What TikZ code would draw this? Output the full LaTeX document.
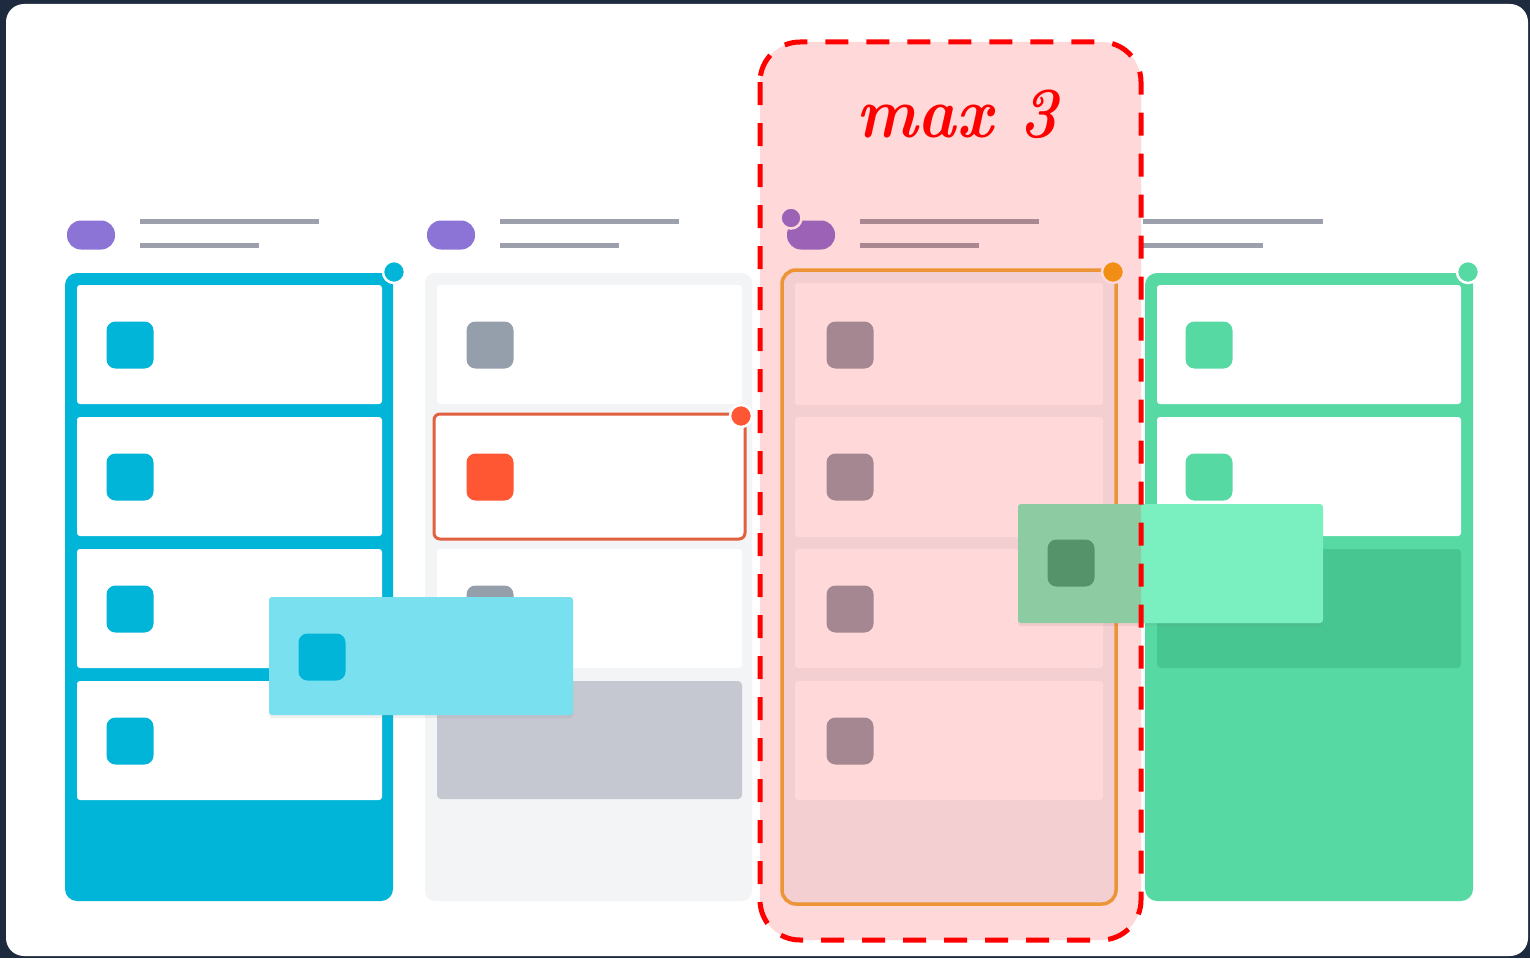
\documentclass[tikz,border=0pt]{standalone}
\usetikzlibrary{shadows}
\definecolor{navy}{HTML}{1E2A3D}
\definecolor{cblue}{HTML}{00B5D8}
\definecolor{lblue}{HTML}{79E0F0}
\definecolor{cgreen}{HTML}{57D9A3}
\definecolor{dgreen}{HTML}{48C691}
\definecolor{lgreen}{HTML}{7AF0C0}
\definecolor{ggreen}{HTML}{38AF7E}
\definecolor{cgray}{HTML}{F3F4F6}
\definecolor{pgray}{HTML}{C5C8D1}
\definecolor{igray}{HTML}{959FAB}
\definecolor{hgray}{HTML}{9CA0AC}
\definecolor{cred}{HTML}{E0603F}
\definecolor{ired}{HTML}{FF5733}
\definecolor{corange}{HTML}{EBAE40}
\definecolor{dorange}{HTML}{F0A818}
\definecolor{cpurple}{HTML}{8B74D6}
\tikzset{
  icon/.style={rectangle, minimum size=47pt, inner sep=0pt, rounded corners=9pt, draw=none},
  dot/.style={circle, minimum size=22pt, inner sep=0pt, draw=white, line width=2.5pt,
              drop shadow={shadow xshift=0pt, shadow yshift=-1.5pt, opacity=0.15}},
  pill/.style={rectangle, minimum width=48pt, minimum height=29pt, inner sep=0pt,
               rounded corners=14pt, fill=cpurple, draw=none},
  hline/.style={hgray, line width=5pt},
  card/.style={fill=white, rounded corners=3pt},
  dragcard/.style={rounded corners=3pt,
                   drop shadow={shadow xshift=0pt, shadow yshift=-3pt, opacity=0.12}},
}
\begin{document}
\begin{tikzpicture}[x=1pt,y=-1pt]
\useasboundingbox (0,0) rectangle (1530,958);
\fill[navy] (0,0) rectangle (1530,958);
\fill[white, rounded corners=18pt] (6,4) rectangle (1528,956);

% ---------- column 1 (blue) ----------
\node[pill] (p1) at (91,235) {};
\draw[hline] (140,221) -- (319,221);
\draw[hline] (140,245) -- (259,245);
\fill[cblue, rounded corners=12pt] (65,273) rectangle (393,901);
\fill[card] (77,285) rectangle (382,404);
\fill[card] (77,417) rectangle (382,536);
\fill[card] (77,549) rectangle (382,668);
\fill[card] (77,681) rectangle (382,800);
\node[icon, fill=cblue] (i11) at (130,345) {};
\node[icon, fill=cblue] (i12) at (130,477) {};
\node[icon, fill=cblue] (i13) at (130,609) {};
\node[icon, fill=cblue] (i14) at (130,741) {};
\node[dot, fill=cblue] (d1) at (394,272) {};

% ---------- column 2 (gray) ----------
\node[pill] (p2) at (451,235) {};
\draw[hline] (500,221) -- (679,221);
\draw[hline] (500,245) -- (619,245);
\fill[cgray, rounded corners=10pt] (425,273) rectangle (752,901);
\fill[card] (437,285) rectangle (742,404);
\fill[card] (437,549) rectangle (742,668);
\fill[pgray, rounded corners=4pt] (437,681) rectangle (742,799);
\draw[cred, line width=3pt, fill=white, rounded corners=6pt] (434,414) rectangle (745,539);
\node[icon, fill=igray] (i21) at (490,345) {};
\node[icon, fill=ired] (i22) at (490,477) {};
\node[icon, fill=igray] (i23) at (490,609) {};
\node[dot, fill=ired] (d2) at (741,416) {};

% ---------- column 3 (orange, limited) ----------
\node[pill] (p3) at (811,235) {};
\node[circle, minimum size=21pt, inner sep=0pt, fill=cpurple, draw=white, line width=2.5pt] (p3b) at (791,218) {};
\draw[hline] (860,221) -- (1039,221);
\draw[hline] (860,245) -- (979,245);
\fill[cgray, rounded corners=14pt] (782,270) rectangle (1116,904);
\fill[card] (795,283) rectangle (1103,405);
\fill[card] (795,417) rectangle (1103,537);
\fill[card] (795,549) rectangle (1103,668);
\fill[card] (795,681) rectangle (1103,800);
\draw[corange, line width=3.5pt, rounded corners=14pt] (782,270) rectangle (1116,904);
\node[icon, fill=igray] (i31) at (850,345) {};
\node[icon, fill=igray] (i32) at (850,477) {};
\node[icon, fill=igray] (i33) at (850,609) {};
\node[icon, fill=igray] (i34) at (850,741) {};
\node[dot, fill=dorange] (d3) at (1113,272) {};

% ---------- column 4 (green) ----------
\draw[hline] (1143,221) -- (1323,221);
\draw[hline] (1143,245) -- (1263,245);
\fill[cgreen, rounded corners=12pt] (1145,273) rectangle (1473,901);
\fill[card] (1157,285) rectangle (1461,404);
\fill[card] (1157,417) rectangle (1461,536);
\fill[dgreen, rounded corners=4pt] (1157,549) rectangle (1461,668);
\node[icon, fill=cgreen] (i41) at (1209,345) {};
\node[icon, fill=cgreen] (i42) at (1209,477) {};
\node[dot, fill=cgreen] (d4) at (1468,272) {};

% ---------- dragged cards ----------
\fill[lblue, dragcard] (269,597) rectangle (573,715);
\node[icon, fill=cblue] (ib) at (322,657) {};
\fill[lgreen, dragcard] (1018,504) rectangle (1323,623);
\node[icon, fill=ggreen] (ig) at (1071,563) {};

% ---------- WIP limit highlight ----------
\fill[red, opacity=0.15, rounded corners=40pt] (760,42) rectangle (1141,940);
\draw[red, line width=5pt, dash pattern=on 23pt off 18pt, rounded corners=40pt]
  (760,42) rectangle (1141,940);
\node[text=red, font={\fontsize{72}{72}\selectfont\bfseries\itshape}, xscale=0.9, transform shape]
  (lim) at (957,114) {max 3};
\end{tikzpicture}
\end{document}
